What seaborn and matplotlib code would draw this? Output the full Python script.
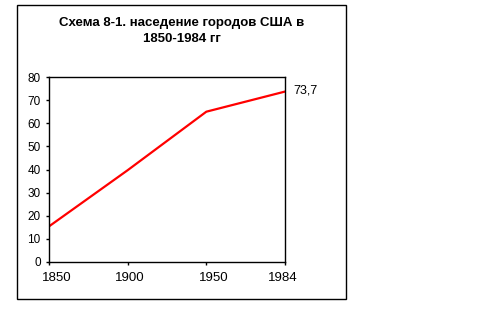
import matplotlib
matplotlib.use("Agg")
import matplotlib.pyplot as plt
import matplotlib.transforms as mtransforms
import seaborn as sns
import pandas as pd
from matplotlib.patches import Rectangle

years = ["1850", "1900", "1950", "1984"]
urban_share = [15.4, 39.7, 65.0, 73.7]
y_ticks = [0, 10, 20, 30, 40, 50, 60, 70, 80]
title = "Схема 8-1. наседение городов США в\n1850-1984 гг"
last_label = "73,7"

sns.set_theme(style="white")
plt.rcParams['font.family'] = ['Liberation Sans', 'DejaVu Sans']
plt.rcParams['text.color'] = 'black'

W, H = 503, 324
fig = plt.figure(figsize=(W / 100, H / 100), dpi=100)
fig.patch.set_facecolor("white")

# outer chart frame
fig.add_artist(Rectangle((17 / W, 1 - 299 / H), (346 - 17) / W, (299 - 5) / H,
                         transform=fig.transFigure, fill=False, edgecolor="black", linewidth=1.0))

ax = fig.add_axes([49 / W, 1 - 262 / H, (285 - 49) / W, (262 - 77) / H])
df = pd.DataFrame({"year": years, "value": urban_share})
sns.lineplot(data=df, x="year", y="value", ax=ax, color="#ff0000", linewidth=1.6)

ax.set_xlim(0, len(years) - 1)
ax.set_ylim(0, 80)
ax.set_yticks(y_ticks)
ax.set_yticklabels([str(t) for t in y_ticks], fontsize=8.5)
ax.set_xticks(range(len(years)))
ax.set_xticklabels(years, fontsize=9.5)
ax.set_xlabel("")
ax.set_ylabel("")
for s in ax.spines.values():
    s.set_visible(True)
    s.set_color("black")
    s.set_linewidth(1.0)
ax.tick_params(axis="both", which="both", direction="out", length=2.5, width=1,
               color="black", labelcolor="black", bottom=True, left=True)
ax.tick_params(axis="y", pad=3.5)
ax.tick_params(axis="x", pad=4.5)

# Excel-like slight horizontal shifts of category labels
shifts_px = [8, 2, 7, -2]
for lbl, dx in zip(ax.get_xticklabels(), shifts_px):
    lbl.set_transform(lbl.get_transform() + mtransforms.ScaledTranslation(dx / 100, 0, fig.dpi_scale_trans))

ax.annotate(last_label, xy=(len(years) - 1, urban_share[-1]), xytext=(6, 1),
            textcoords="offset points", fontsize=9, color="black", va="center", ha="left",
            annotation_clip=False)

fig.text(182 / W, 1 - 31 / H, title, ha="center", va="center", fontsize=9.5,
         fontweight="bold", linespacing=1.5, color="black")

fig.savefig("out.png", dpi=100)
